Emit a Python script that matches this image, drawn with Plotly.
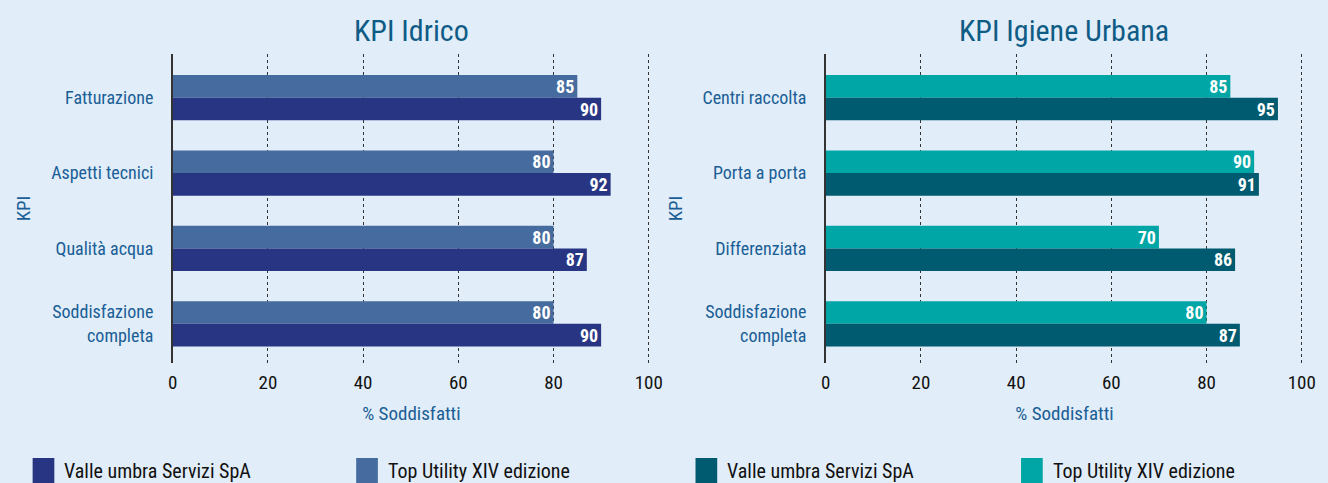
import plotly.graph_objects as go

W, H = 1328, 483

# ---------------- data ----------------
cat_idrico = ["Fatturazione", "Aspetti tecnici", "Qualità acqua", "Soddisfazione<br>completa"]
idrico_top = [85, 80, 80, 80]
idrico_vus = [90, 92, 87, 90]

cat_igiene = ["Centri raccolta", "Porta a porta", "Differenziata", "Soddisfazione<br>completa"]
igiene_top = [85, 90, 70, 80]
igiene_vus = [95, 91, 86, 87]

series_names = ["Valle umbra Servizi SpA", "Top Utility XIV edizione"]
x_ticks = [0, 20, 40, 60, 80, 100]
titles = ["KPI Idrico", "KPI Igiene Urbana"]

# ---------------- style ----------------
BG = "#E1EDF8"
C_VUS_I = "#283583"
C_TOP_I = "#466B9E"
C_VUS_U = "#005A70"
C_TOP_U = "#00A6A6"
BLUE_TXT = "#1A5E96"
TITLE_TXT = "#0E5C86"
FONT = "Roboto Condensed, Liberation Sans Narrow, DejaVu Sans Condensed, Roboto, sans-serif"

fig = go.Figure()

def add_bar(cats, vals, col, xa, ya):
    fig.add_trace(go.Bar(
        y=cats, x=vals, orientation="h", marker=dict(color=col, line=dict(width=0)),
        text=[str(v) for v in vals], textposition="inside", insidetextanchor="end",
        textangle=0, constraintext="none",
        textfont=dict(color="white", size=18, family=FONT, weight="bold"),
        xaxis=xa, yaxis=ya, showlegend=False, cliponaxis=False))

add_bar(cat_idrico, idrico_top, C_TOP_I, "x", "y")
add_bar(cat_idrico, idrico_vus, C_VUS_I, "x", "y")
add_bar(cat_igiene, igiene_top, C_TOP_U, "x2", "y2")
add_bar(cat_igiene, igiene_vus, C_VUS_U, "x2", "y2")

ydom = [1 - 363 / H, 1 - 54 / H]
xdom1 = [170 / W, 654 / W]
xdom2 = [832 / W, 1316 / W]

xcommon = dict(range=[0, 100.3], tickvals=x_ticks, showgrid=True, gridcolor="#333333",
               griddash="dot", gridwidth=1, zeroline=False, showline=False,
               tickfont=dict(size=19, color="#111111", family=FONT),
               ticks="", ticklabelstandoff=6,
               title=dict(text="% Soddisfatti", font=dict(size=19, color=BLUE_TXT, family=FONT), standoff=13))
ycommon = dict(type="category", range=[3.52, -0.58], showgrid=False, zeroline=False,
               showline=True, linecolor="#333333", linewidth=1.5,
               tickfont=dict(size=18, color=BLUE_TXT, family=FONT), ticks="",
               ticklabelstandoff=14,
               title=dict(text="KPI", font=dict(size=19, color=BLUE_TXT, family=FONT)))

fig.update_layout(
    width=W, height=H, paper_bgcolor=BG, plot_bgcolor=BG,
    margin=dict(l=0, r=0, t=0, b=0),
    barmode="group", bargap=0.4, bargroupgap=0,
    xaxis=dict(domain=xdom1, anchor="y", **xcommon),
    yaxis=dict(domain=ydom, anchor="x", **ycommon),
    xaxis2=dict(domain=xdom2, anchor="y2", **xcommon),
    yaxis2=dict(domain=ydom, anchor="x2", **ycommon),
    showlegend=False,
    font=dict(family=FONT),
)

annotations = []
shapes = []
for i, t in enumerate(titles):
    dom = xdom1 if i == 0 else xdom2
    annotations.append(dict(text=t, x=(dom[0] + dom[1]) / 2, y=1 - 30 / H, xref="paper", yref="paper",
                            showarrow=False, xanchor="center", yanchor="middle",
                            font=dict(size=30, color=TITLE_TXT, family=FONT)))

# custom legend
legend_items = [
    (28, C_VUS_I, series_names[0]),
    (356, C_TOP_I, series_names[1]),
    (700, C_VUS_U, series_names[0]),
    (1030, C_TOP_U, series_names[1]),
]
for x0, col, name in legend_items:
    shapes.append(dict(type="rect", xref="paper", yref="paper",
                       x0=x0 / W, x1=(x0 + 22) / W, y0=1 - 483 / H, y1=1 - 458 / H,
                       fillcolor=col, line=dict(width=0)))
    annotations.append(dict(text=name, x=(x0 + 30) / W, y=1 - 471 / H, xref="paper", yref="paper",
                            showarrow=False, xanchor="left", yanchor="middle",
                            font=dict(size=20, color="#111111", family=FONT)))

fig.update_layout(annotations=annotations, shapes=shapes)
fig.write_html("out.html", config={"displayModeBar": False},
               post_script="document.body.style.margin='0';document.body.style.overflow='hidden';")
